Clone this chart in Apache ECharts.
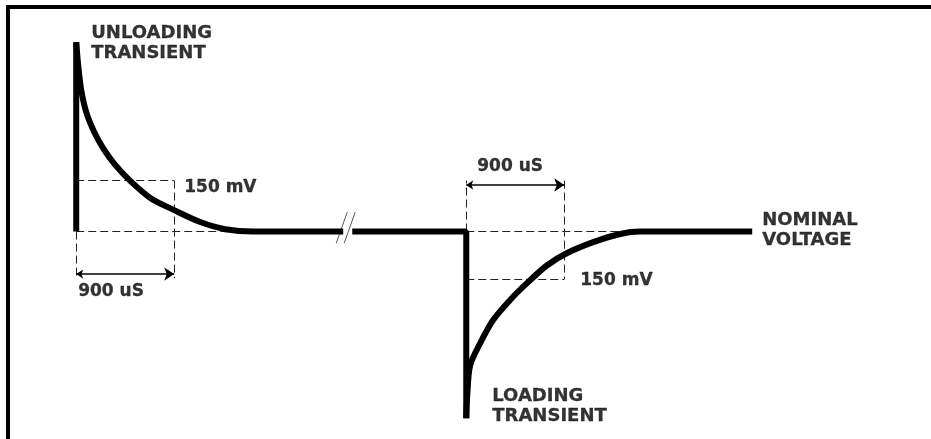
<!DOCTYPE html>
<html>
<head>
<meta charset="utf-8">
<script src="https://cdn.jsdelivr.net/npm/echarts@6/dist/echarts.min.js"></script>
<style>
  html, body { margin: 0; padding: 0; background: #fff; }
  #main { width: 931px; height: 439px; }
</style>
</head>
<body>
<div id="main"></div>
<script>
// time in uS (axis is broken between the two events), voltage in mV from nominal
var unloadingStep = [[0, 0], [0, 557]];
var unloadingCurve = [
    [0, 557], [18, 490], [46, 416], [92, 351], [165, 293], [257, 240],
    [358, 196], [496, 149], [680, 99], [900, 63], [1139, 28], [1368, 7], [1626, 0],
    [2452, 0]
];
var loadingStep = [[2535, 0], [3582, 0], [3582, -549]];
var loadingCurve = [
    [3582, -549], [3591, -481], [3618, -393], [3710, -328], [3829, -260], [3985, -201],
    [4142, -151], [4325, -99], [4509, -63], [4748, -31], [4996, -7], [5180, 0], [6208, 0]
];
// dashed guide lines
var guideLines = [
    [[0, 150], [900, 150]],
    [[900, 150], [900, -137]],
    [[0, 0], [1626, 0]],
    [[0, 0], [0, -137]],
    [[3582, 0], [3582, 150]],
    [[4482, 150], [4482, -140]],
    [[3582, -140], [4482, -140]],
    [[3582, 0], [5050, 0]]
];
// 900 uS dimension arrows
var dimArrows = [
    [[0, -125], [900, -125]],
    [[3582, 137], [4482, 137]]
];
// axis break slashes
var breakMarks = [
    [[2388, -34], [2489, 57]],
    [[2461, -34], [2562, 57]]
];
var titles = [
    [138, 554, 'UNLOADING\nTRANSIENT'],
    [3821, -513, 'LOADING\nTRANSIENT'],
    [6300, 4, 'NOMINAL\nVOLTAGE']
];
var dimLabels = [
    [992, 128, '150 mV'],
    [18, -175, '900 uS'],
    [3683, 190, '900 uS'],
    [4629, -143, '150 mV']
];

var myChart = echarts.init(document.getElementById('main'));

function toLines(list){
    return list.map(function(seg){ return {coords: seg}; });
}
function textSeries(list, size){
    return {
        type: 'scatter', z: 4, symbolSize: 0,
        data: list.map(function(n){ return { value: [n[0], n[1]], name: n[2] }; }),
        label: {
            show: true, position: 'right', distance: 0,
            formatter: function(p){ return p.name; },
            color: '#000', fontFamily: 'DejaVu Sans', fontWeight: 'bold',
            fontSize: size, lineHeight: 20,
            textBorderColor: '#000', textBorderWidth: 0.3
        }
    };
}
function trace(data, smooth){
    return {
        type: 'line', z: 3, showSymbol: false, smooth: smooth,
        lineStyle: { color: '#000', width: 6, join: 'bevel', cap: 'butt' },
        data: data
    };
}

var option = {
    animation: false,
    backgroundColor: '#fff',
    grid: { left: 0, right: 0, top: 0, bottom: 0 },
    xAxis: { type: 'value', min: -700, max: 7850, show: false },
    yAxis: { type: 'value', min: -610, max: 681, show: false },
    graphic: [
        { type: 'rect', shape: { x: 6, y: 5, width: 925, height: 4 }, style: { fill: '#000' } },
        { type: 'rect', shape: { x: 6, y: 5, width: 4, height: 434 }, style: { fill: '#000' } }
    ],
    series: [
        {
            type: 'lines', coordinateSystem: 'cartesian2d', z: 1,
            symbol: 'none',
            lineStyle: { color: '#222', width: 1, type: [8, 4], opacity: 1 },
            data: toLines(guideLines)
        },
        {
            type: 'lines', coordinateSystem: 'cartesian2d', z: 1,
            symbol: 'none',
            lineStyle: { color: '#555', width: 1, opacity: 1 },
            data: toLines(breakMarks)
        },
        {
            type: 'lines', coordinateSystem: 'cartesian2d', z: 2,
            symbol: ['arrow', 'arrow'], symbolSize: [7, 10],
            lineStyle: { color: '#000', width: 1.5, opacity: 1 },
            itemStyle: { color: '#000' },
            data: toLines(dimArrows)
        },
        trace(unloadingStep, false),
        trace(unloadingCurve, 0.3),
        trace(loadingStep, false),
        trace(loadingCurve, 0.3),
        textSeries(titles, 18),
        textSeries(dimLabels, 17)
    ]
};
myChart.setOption(option);
</script>
</body>
</html>
